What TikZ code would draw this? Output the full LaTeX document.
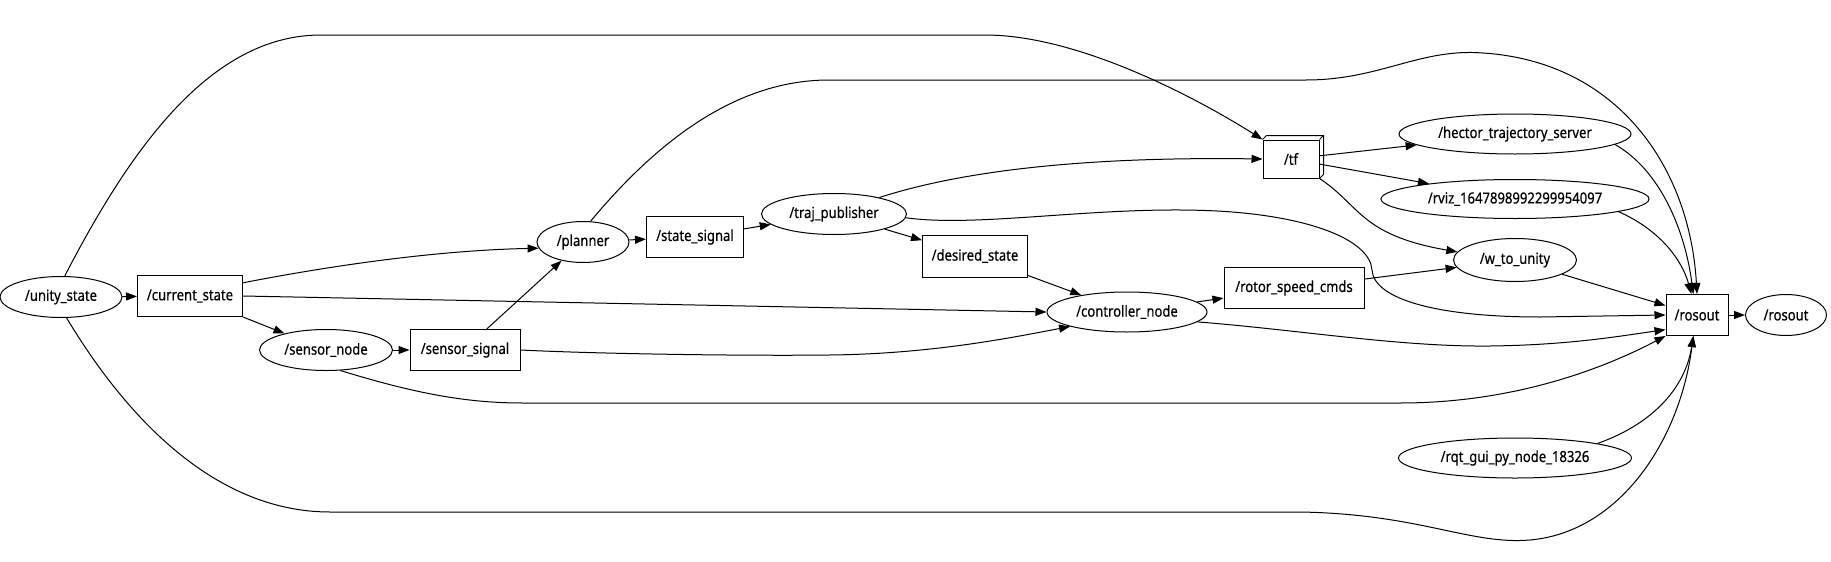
\documentclass[tikz,border=0pt]{standalone}
\usepackage{fontspec}
\setmainfont{Noto Sans}[FakeStretch=0.86,FakeBold=0.4]
\usetikzlibrary{shapes.geometric,arrows.meta}
\begin{document}
\begin{tikzpicture}[
  x=0.5pt, y=-0.5pt,
  every node/.style={font=\fontsize{7.6pt}{9pt}\selectfont, draw, line width=0.5pt, inner sep=0pt},
  rosnode/.style={ellipse, minimum height=20.5pt},
  topic/.style={rectangle, minimum height=20.5pt},
  edge/.style={line width=0.5pt, -{Triangle[length=5.5pt,width=4pt]}}
]
  \useasboundingbox (0,0) rectangle (1831,562);
  \node[rosnode, minimum width=61pt] (unity) at (61,297) {/unity\_state};
  \node[topic, minimum width=52.5pt] (cur) at (190,296) {/current\_state};
  \node[rosnode, minimum width=66.5pt] (sn) at (326,350) {/sensor\_node};
  \node[topic, minimum width=55pt] (ss) at (465,350) {/sensor\_signal};
  \node[rosnode, minimum width=46pt] (planner) at (583,242) {/planner};
  \node[topic, minimum width=48.5pt] (statesig) at (695,237) {/state\_signal};
  \node[rosnode, minimum width=72.5pt] (traj) at (834,214) {/traj\_publisher};
  \node[topic, minimum width=52.5pt, minimum height=21pt] (des) at (975,256) {/desired\_state};
  \node[rosnode, minimum width=80pt, minimum height=20pt] (ctrl) at (1127,312) {/controller\_node};
  \node[topic, minimum width=70pt] (rotor) at (1294,288) {/rotor\_speed\_cmds};
  \node[topic, minimum width=28pt, minimum height=19pt] (tf) at (1291,159) {/tf};
  \draw[line width=0.5pt] (tf.north west) -- ++(4,-4) -- ([shift={(4,-4)}]tf.north east)
    -- ([shift={(4,-4)}]tf.south east) -- (tf.south east) (tf.north east) -- ++(4,-4);
  \node[rosnode, minimum width=116pt, minimum height=20pt] (hector) at (1515,134) {/hector\_trajectory\_server};
  \node[rosnode, minimum width=134pt, minimum height=19.5pt] (rviz) at (1515,199) {/rviz\_1647898992299954097};
  \node[rosnode, minimum width=61.5pt, minimum height=21.5pt] (wtu) at (1515,260) {/w\_to\_unity};
  \node[topic, minimum width=31pt] (ros) at (1697,315) {/rosout};
  \node[rosnode, minimum width=40.5pt] (rosn) at (1786,315) {/rosout};
  \node[rosnode, minimum width=116.5pt, minimum height=20pt] (rqt) at (1515,458) {/rqt\_gui\_py\_node\_18326};

  \draw[edge] (unity) -- (cur);
  \draw[edge] (unity.80) .. controls (130,150) and (210,35) .. (321,35) -- (985,35)
    .. controls (1080,35) and (1200,100) .. (tf.north west);
  \draw[edge] (unity.-75) .. controls (140,440) and (230,512) .. (330,512) -- (1300,512)
    .. controls (1420,514) and (1470,545) .. (1530,540)
    .. controls (1620,532) and (1680,440) .. (ros.-100);
  \draw[edge] (cur.14) .. controls (350,262) and (450,250) .. (planner.188);
  \draw[edge] (cur.east) -- (ctrl.west);
  \draw[edge] (cur.south east) -- (sn);
  \draw[edge] (sn) -- (ss);
  \draw[edge] (sn.-55) .. controls (420,395) and (470,403) .. (523,403) -- (1400,403)
    .. controls (1520,403) and (1610,365) .. (ros.south west);
  \draw[edge] (ss.44) -- (planner.221);
  \draw[edge] (ss.east) .. controls (600,354) and (750,356) .. (829,355)
    .. controls (930,354) and (1010,338) .. (ctrl.south west);
  \draw[edge] (planner) -- (statesig);
  \draw[edge] (planner.70) .. controls (650,150) and (730,80) .. (829,80) -- (1306,80)
    .. controls (1380,80) and (1420,48) .. (1483,53)
    .. controls (1620,62) and (1690,170) .. (ros.90);
  \draw[edge] (statesig) -- (traj);
  \draw[edge] (traj.20) .. controls (980,165) and (1120,157) .. (tf.west);
  \draw[edge] (traj) -- (des);
  \draw[edge] (traj.-3) .. controls (980,228) and (1100,205) .. (1217,211)
    .. controls (1310,216) and (1370,240) .. (1372,270)
    .. controls (1374,300) and (1440,317) .. (1540,317) -- (ros.west);
  \draw[edge] (des) -- (ctrl);
  \draw[edge] (ctrl) -- (rotor);
  \draw[edge] (ctrl.-8) .. controls (1300,330) and (1400,347) .. (1490,346)
    .. controls (1570,345) and (1620,336) .. (ros.205);
  \draw[edge] (rotor) -- (wtu);
  \draw[edge] (tf) -- (hector);
  \draw[edge] (tf) -- (rviz);
  \draw[edge] (tf.south east) .. controls (1360,205) and (1360,235) .. (wtu.172);
  \draw[edge] (hector.-6) .. controls (1660,170) and (1685,230) .. (ros.100);
  \draw[edge] (rviz.-7) .. controls (1660,230) and (1682,260) .. (ros.105);
  \draw[edge] (wtu) -- (ros);
  \draw[edge] (rqt.10) .. controls (1650,425) and (1685,390) .. (ros.-100);
  \draw[edge] (ros) -- (rosn);
\end{tikzpicture}
\end{document}
